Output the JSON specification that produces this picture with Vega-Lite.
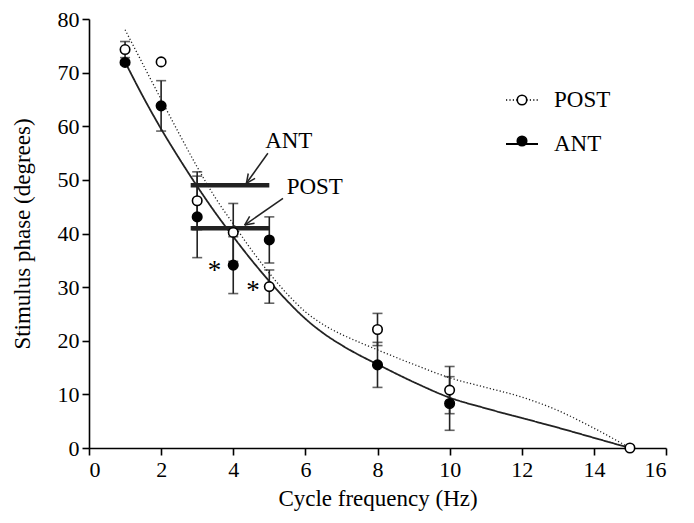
{
  "$schema": "https://vega.github.io/schema/vega-lite/v6.json",
  "autosize": "none",
  "width": 577,
  "height": 429,
  "padding": {"left": 89, "top": 19, "right": 28, "bottom": 75},
  "background": "white",
  "config": {
    "view": {"stroke": null},
    "font": "Liberation Serif",
    "axis": {
      "grid": false,
      "domainColor": "black",
      "domainWidth": 1.6,
      "tickColor": "black",
      "tickWidth": 1.6,
      "tickSize": 7,
      "labelFont": "Liberation Serif",
      "labelFontSize": 22,
      "labelColor": "black",
      "titleFont": "Liberation Serif",
      "titleFontSize": 23,
      "titleFontWeight": "normal",
      "titleColor": "black"
    },
    "legend": {"labelFont": "Liberation Serif", "labelColor": "black"}
  },
  "datasets": {
    "points": [
      {"x": 1, "y": 74.3, "err": 1.5, "series": "POST"},
      {"x": 2, "y": 72.0, "series": "POST"},
      {"x": 3, "y": 46.1, "err": 5.4, "series": "POST"},
      {"x": 4, "y": 40.2, "err": 5.4, "series": "POST"},
      {"x": 5, "y": 30.1, "err": 3.1, "series": "POST"},
      {"x": 8, "y": 22.1, "err": 3.0, "series": "POST"},
      {"x": 10, "y": 10.8, "err": 4.4, "series": "POST"},
      {"x": 15, "y": 0, "series": "POST"},
      {"x": 1, "y": 71.9, "series": "ANT"},
      {"x": 2, "y": 63.8, "err": 4.7, "series": "ANT"},
      {"x": 3, "y": 43.1, "err": 7.6, "series": "ANT"},
      {"x": 4, "y": 34.1, "err": 5.3, "series": "ANT"},
      {"x": 5, "y": 38.8, "err": 4.3, "series": "ANT"},
      {"x": 8, "y": 15.5, "err": 4.2, "series": "ANT"},
      {"x": 10, "y": 8.3, "err": 5.0, "series": "ANT"}
    ],
    "curves": [
      {"x": 1, "y": 78.0, "series": "POST"},
      {"x": 1.5, "y": 71.5, "series": "POST"},
      {"x": 2, "y": 65.0, "series": "POST"},
      {"x": 2.5, "y": 58.6, "series": "POST"},
      {"x": 3, "y": 52.4, "series": "POST"},
      {"x": 3.5, "y": 46.7, "series": "POST"},
      {"x": 4, "y": 41.8, "series": "POST"},
      {"x": 4.5, "y": 37.0, "series": "POST"},
      {"x": 5, "y": 32.6, "series": "POST"},
      {"x": 5.5, "y": 28.7, "series": "POST"},
      {"x": 6, "y": 25.4, "series": "POST"},
      {"x": 6.5, "y": 23.0, "series": "POST"},
      {"x": 7, "y": 21.2, "series": "POST"},
      {"x": 7.5, "y": 19.7, "series": "POST"},
      {"x": 8, "y": 18.3, "series": "POST"},
      {"x": 9, "y": 15.6, "series": "POST"},
      {"x": 10, "y": 13.1, "series": "POST"},
      {"x": 11, "y": 11.3, "series": "POST"},
      {"x": 12, "y": 9.5, "series": "POST"},
      {"x": 13, "y": 7.0, "series": "POST"},
      {"x": 14, "y": 3.7, "series": "POST"},
      {"x": 15, "y": 0, "series": "POST"},
      {"x": 1, "y": 72.0, "series": "ANT"},
      {"x": 1.5, "y": 65.5, "series": "ANT"},
      {"x": 2, "y": 59.5, "series": "ANT"},
      {"x": 2.5, "y": 54.0, "series": "ANT"},
      {"x": 3, "y": 48.8, "series": "ANT"},
      {"x": 3.5, "y": 43.9, "series": "ANT"},
      {"x": 4, "y": 39.4, "series": "ANT"},
      {"x": 4.5, "y": 35.1, "series": "ANT"},
      {"x": 5, "y": 31.1, "series": "ANT"},
      {"x": 5.5, "y": 27.4, "series": "ANT"},
      {"x": 6, "y": 24.1, "series": "ANT"},
      {"x": 6.5, "y": 21.4, "series": "ANT"},
      {"x": 7, "y": 19.2, "series": "ANT"},
      {"x": 7.5, "y": 17.3, "series": "ANT"},
      {"x": 8, "y": 15.6, "series": "ANT"},
      {"x": 9, "y": 12.3, "series": "ANT"},
      {"x": 10, "y": 9.4, "series": "ANT"},
      {"x": 11, "y": 7.4, "series": "ANT"},
      {"x": 12, "y": 5.6, "series": "ANT"},
      {"x": 13, "y": 3.8, "series": "ANT"},
      {"x": 14, "y": 1.9, "series": "ANT"},
      {"x": 15, "y": 0, "series": "ANT"}
    ],
    "bars": [
      {"x": 2.82, "x2": 5.0, "y": 49.0, "bar": "ANT"},
      {"x": 2.82, "x2": 5.0, "y": 41.0, "bar": "POST"}
    ],
    "arrows": [
      {"x": 4.96, "y": 54.96, "x2": 4.364, "y2": 49.36},
      {"x": 4.364, "y": 49.36, "x2": 4.605, "y2": 50.28},
      {"x": 4.364, "y": 49.36, "x2": 4.416, "y2": 51.19},
      {"x": 5.379, "y": 46.56, "x2": 4.316, "y2": 41.58},
      {"x": 4.316, "y": 41.58, "x2": 4.591, "y2": 41.9},
      {"x": 4.316, "y": 41.58, "x2": 4.455, "y2": 43.19}
    ],
    "labels": [
      {"x": 5.54, "y": 55.9, "text": "ANT"},
      {"x": 6.26, "y": 47.4, "text": "POST"}
    ],
    "stars": [
      {"x": 3.48, "y": 31.6, "text": "*"},
      {"x": 4.55, "y": 27.7, "text": "*"}
    ]
  },
  "layer": [
    {
      "data": {"name": "curves"},
      "mark": {"type": "line", "interpolate": "monotone", "color": "#222"},
      "encoding": {
        "x": {"field": "x", "type": "quantitative", "title": "Cycle frequency (Hz)",
              "scale": {"domain": [0, 16], "nice": false, "zero": false},
              "axis": {"values": [0, 2, 4, 6, 8, 10, 12, 14, 16], "labelPadding": 4, "titlePadding": 7}},
        "y": {"field": "y", "type": "quantitative", "title": "Stimulus phase (degrees)",
              "scale": {"domain": [0, 80], "nice": false, "zero": false},
              "axis": {"values": [0, 10, 20, 30, 40, 50, 60, 70, 80], "labelPadding": 3, "titlePadding": 23}},
        "strokeDash": {"field": "series", "type": "nominal", "sort": "descending",
                       "scale": {"range": [[1.2, 2.2], [1, 0]]},
                       "legend": {"orient": "none", "legendX": 416, "legendY": 64, "title": null,
                                  "symbolType": "stroke", "symbolSize": 1024, "symbolStrokeWidth": 1.6,
                                  "symbolStrokeColor": "black", "labelFontSize": 23, "labelOffset": 15,
                                  "rowPadding": 15, "padding": 0}},
        "strokeWidth": {"field": "series", "type": "nominal", "sort": "descending",
                        "scale": {"range": [1.3, 1.8]}, "legend": null}
      }
    },
    {
      "data": {"name": "bars"},
      "mark": {"type": "rule", "strokeWidth": 4.5, "color": "#222", "strokeCap": "butt"},
      "encoding": {
        "x": {"field": "x", "type": "quantitative", "title": "Cycle frequency (Hz)"},
        "x2": {"field": "x2"},
        "y": {"field": "y", "type": "quantitative", "title": "Stimulus phase (degrees)"}
      }
    },
    {
      "data": {"name": "arrows"},
      "mark": {"type": "rule", "strokeWidth": 1.5, "color": "#222"},
      "encoding": {
        "x": {"field": "x", "type": "quantitative", "title": "Cycle frequency (Hz)"},
        "x2": {"field": "x2"},
        "y": {"field": "y", "type": "quantitative", "title": "Stimulus phase (degrees)"},
        "y2": {"field": "y2"}
      }
    },
    {
      "data": {"name": "points"},
      "transform": [{"filter": "isValid(datum.err)"}],
      "mark": {"type": "errorbar", "ticks": {"size": 10, "thickness": 1.6, "color": "#222"},
               "rule": {"strokeWidth": 1.6, "color": "#222"}},
      "encoding": {
        "x": {"field": "x", "type": "quantitative", "title": "Cycle frequency (Hz)"},
        "y": {"field": "y", "type": "quantitative", "title": "Stimulus phase (degrees)"},
        "yError": {"field": "err"}
      }
    },
    {
      "data": {"name": "points"},
      "mark": {"type": "point", "shape": "circle", "size": 90, "filled": true, "opacity": 1,
               "stroke": "black", "strokeWidth": 1.6},
      "encoding": {
        "x": {"field": "x", "type": "quantitative", "title": "Cycle frequency (Hz)"},
        "y": {"field": "y", "type": "quantitative", "title": "Stimulus phase (degrees)"},
        "fill": {"field": "series", "type": "nominal", "sort": "descending",
                 "scale": {"range": ["white", "black"]},
                 "legend": {"orient": "none", "legendX": 427, "legendY": 75, "title": null,
                            "symbolType": "circle", "symbolSize": 90, "symbolStrokeColor": "black",
                            "symbolStrokeWidth": 1.6, "labelFontSize": 8, "labelOpacity": 0,
                            "rowPadding": 25, "padding": 0}}
      }
    },
    {
      "data": {"name": "labels"},
      "mark": {"type": "text", "fontSize": 23, "font": "Liberation Serif", "align": "center",
               "baseline": "alphabetic", "color": "black"},
      "encoding": {
        "x": {"field": "x", "type": "quantitative", "title": "Cycle frequency (Hz)"},
        "y": {"field": "y", "type": "quantitative", "title": "Stimulus phase (degrees)"},
        "text": {"field": "text"}
      }
    },
    {
      "data": {"name": "stars"},
      "mark": {"type": "text", "fontSize": 27, "font": "Liberation Serif", "align": "center",
               "baseline": "alphabetic", "color": "black"},
      "encoding": {
        "x": {"field": "x", "type": "quantitative", "title": "Cycle frequency (Hz)"},
        "y": {"field": "y", "type": "quantitative", "title": "Stimulus phase (degrees)"},
        "text": {"field": "text"}
      }
    }
  ]
}
